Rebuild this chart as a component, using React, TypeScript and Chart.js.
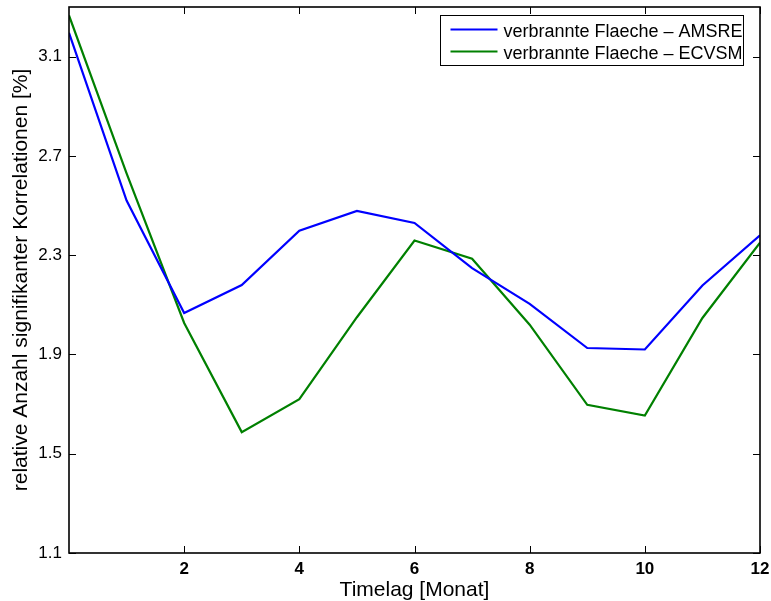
import { useEffect, useRef } from "react";
import { Chart, registerables } from "chart.js";

Chart.register(...registerables);

const timelag = [0, 1, 2, 3, 4, 5, 6, 7, 8, 9, 10, 11, 12];
const amsre = [3.196, 2.52, 2.067, 2.18, 2.399, 2.478, 2.43, 2.248, 2.104, 1.926, 1.92, 2.178, 2.38];
const ecvsm = [3.266, 2.63, 2.027, 1.587, 1.72, 2.05, 2.359, 2.286, 2.02, 1.697, 1.654, 2.047, 2.35];
const xTicks = [2, 4, 6, 8, 10, 12];
const yTicks = [1.1, 1.5, 1.9, 2.3, 2.7, 3.1];
const seriesLabels = ["verbrannte Flaeche \u2013 AMSRE", "verbrannte Flaeche \u2013 ECVSM"];
const seriesColors = ["#0000ff", "#008000"];
const xTitle = "Timelag [Monat]";
const yTitle = "relative Anzahl signifikanter Korrelationen [%]";

const FONT = "'Liberation Sans', Arial, Helvetica, sans-serif";

const framePlugin = {
  id: "matlabFrame",
  afterDraw(chart: any) {
    const { ctx, chartArea } = chart;
    const { left, right, top, bottom } = chartArea;
    const xs = chart.scales.x;
    const ys = chart.scales.y;
    ctx.save();
    // inward ticks on all four sides
    ctx.strokeStyle = "#000";
    ctx.lineWidth = 1;
    ctx.beginPath();
    const tl = 7;
    xTicks.forEach((v) => {
      const px = Math.round(xs.getPixelForValue(v)) + 0.5;
      ctx.moveTo(px, bottom);
      ctx.lineTo(px, bottom - tl);
      ctx.moveTo(px, top);
      ctx.lineTo(px, top + tl);
    });
    yTicks.forEach((v) => {
      const py = Math.round(ys.getPixelForValue(v)) + 0.5;
      ctx.moveTo(left, py);
      ctx.lineTo(left + tl, py);
      ctx.moveTo(right, py);
      ctx.lineTo(right - tl, py);
    });
    ctx.stroke();
    // frame
    ctx.lineWidth = 1.6;
    ctx.strokeRect(left, top, right - left, bottom - top);

    // legend
    const bx = Math.round(right - 320) + 0.5;
    const by = Math.round(top + 8) + 0.5;
    const bw = 303;
    const bh = 50;
    ctx.fillStyle = "#fff";
    ctx.fillRect(bx, by, bw, bh);
    ctx.lineWidth = 1;
    ctx.strokeStyle = "#000";
    ctx.strokeRect(bx, by, bw, bh);
    ctx.font = `18px ${FONT}`;
    ctx.textBaseline = "alphabetic";
    ctx.textAlign = "left";
    chart.data.datasets.forEach((ds: any, i: number) => {
      const ly = by + 14 + i * 22;
      ctx.strokeStyle = ds.borderColor;
      ctx.lineWidth = 2;
      ctx.beginPath();
      ctx.moveTo(bx + 10, ly);
      ctx.lineTo(bx + 57, ly);
      ctx.stroke();
      ctx.fillStyle = "#000";
      ctx.fillText(ds.label, bx + 63, ly + 7.5);
    });
    ctx.restore();
  },
};

const zeroPad = (scale: any) => {
  scale.paddingTop = 0;
  scale.paddingBottom = 0;
  scale.paddingLeft = 0;
  scale.paddingRight = 0;
};

export default function App() {
  const ref = useRef<HTMLCanvasElement>(null);
  useEffect(() => {
    if (!ref.current) return;
    const chart = new Chart(ref.current, {
      type: "line",
      data: {
        datasets: [amsre, ecvsm].map((vals, i) => ({
          label: seriesLabels[i],
          data: timelag.map((t, k) => ({ x: t, y: vals[k] })),
          borderColor: seriesColors[i],
          backgroundColor: seriesColors[i],
          borderWidth: 2.2,
          pointRadius: 0,
          tension: 0,
          fill: false,
        })),
      },
      options: {
        responsive: false,
        animation: false,
        layout: { padding: { top: 7, right: 11, left: 0, bottom: 0 } },
        plugins: {
          legend: { display: false },
          tooltip: { enabled: false },
        },
        scales: {
          x: {
            type: "linear",
            min: 0,
            max: 12,
            afterBuildTicks: (scale: any) => {
              scale.ticks = xTicks.map((v) => ({ value: v }));
            },
            afterFit: (scale: any) => {
              scale.height = 48;
              zeroPad(scale);
            },
            grid: { display: false, drawTicks: false },
            border: { display: false },
            ticks: {
              padding: 6,
              color: "#000",
              font: { family: FONT, size: 17, weight: "bold" },
              maxRotation: 0,
              autoSkip: false,
              callback: (v: any) => String(v),
            },
            title: {
              display: true,
              text: xTitle,
              color: "#000",
              font: { family: FONT, size: 21, lineHeight: 1.0 },
              padding: { top: 0, bottom: 0 },
            },
          },
          y: {
            type: "linear",
            min: 1.1,
            max: 3.3,
            afterBuildTicks: (scale: any) => {
              scale.ticks = yTicks.map((v) => ({ value: v }));
            },
            afterFit: (scale: any) => {
              scale.width = 69;
              zeroPad(scale);
            },
            grid: { display: false, drawTicks: false },
            border: { display: false },
            ticks: {
              padding: 7,
              color: "#000",
              font: { family: FONT, size: 17 },
              autoSkip: false,
              callback: (v: any) => Number(v).toFixed(1),
            },
            title: {
              display: true,
              text: yTitle,
              color: "#000",
              font: { family: FONT, size: 21 },
              padding: { top: 9, bottom: 0 },
            },
          },
        },
      },
      plugins: [framePlugin],
    });
    return () => chart.destroy();
  }, []);
  return (
    <div style={{ position: "fixed", left: 0, top: 0, width: 771, height: 601, background: "#fff" }}>
      <canvas ref={ref} width={771} height={601} style={{ display: "block", width: 771, height: 601 }} />
    </div>
  );
}
